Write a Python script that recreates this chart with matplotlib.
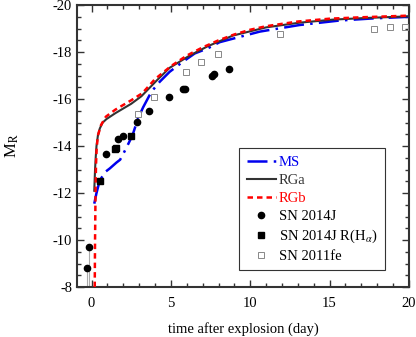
import matplotlib
matplotlib.use("Agg")
import matplotlib.pyplot as plt
from matplotlib.ticker import MultipleLocator

plt.rcParams['font.family'] = ['Liberation Serif', 'DejaVu Serif']
plt.rcParams['mathtext.fontset'] = 'stix'
plt.rcParams['axes.unicode_minus'] = False

# model light curves (days, R magnitude)
ms_t = [0.17, 0.31, 0.52, 0.9, 1.15, 1.57, 1.8, 2.16, 2.58, 2.93, 3.25, 3.77, 4.3,
        4.92, 5.76, 6.5, 7.33, 8.07, 10.6, 13.1, 15.6, 17.7, 20.0]
ms_m = [-11.55, -12.0, -12.55, -12.92, -13.05, -13.3, -13.42, -13.88, -14.46, -15.18,
        -15.65, -16.31, -16.74, -17.16, -17.59, -17.94, -18.16, -18.42, -18.87,
        -19.15, -19.34, -19.43, -19.5]

rga_t = [0.17, 0.22, 0.26, 0.31, 0.4, 0.52, 0.7, 0.94, 1.5, 2.5, 3.14, 4.09, 4.92,
         6.18, 7.33, 8.9, 11.0, 13.1, 15.2, 17.3, 20.0]
rga_m = [-12.1, -13.0, -13.5, -14.0, -14.45, -14.75, -15.0, -15.15, -15.4, -15.8,
         -16.12, -16.78, -17.33, -17.85, -18.25, -18.7, -19.05, -19.25, -19.38,
         -19.45, -19.52]

rgb_t = [0.2, 0.22, 0.25, 0.28, 0.32, 0.4, 0.6, 0.9, 1.5, 2.5, 3.2, 4.0, 5.0, 6.0,
         7.0, 8.0, 9.0, 10.0, 11.0, 12.0, 13.0, 15.0, 17.0, 20.0]
rgb_m = [-8.0, -10.0, -12.0, -13.2, -13.9, -14.45, -14.9, -15.25, -15.55, -15.95,
         -16.25, -16.85, -17.4, -17.85, -18.2, -18.5, -18.75, -18.95, -19.1, -19.2,
         -19.3, -19.42, -19.48, -19.55]

# observations
j14_t = [-0.31, -0.15, 0.88, 1.67, 1.95, 2.87, 3.65, 4.9, 5.74, 5.87, 7.57, 7.69, 8.64]
j14_m = [-8.8, -9.7, -13.68, -14.32, -14.41, -15.01, -15.49, -16.1, -16.44, -16.44,
         -16.98, -17.08, -17.29]

ha_t = [0.52, 1.5, 1.55, 2.49]
ha_m = [-12.53, -13.86, -13.92, -14.45]

fe_t = [2.93, 3.95, 5.93, 6.92, 7.94, 11.85, 17.8, 18.8, 19.75]
fe_m = [-15.36, -16.1, -17.15, -17.56, -17.91, -18.75, -18.99, -19.05, -19.05]

fig = plt.figure(figsize=(4.16, 3.37), dpi=100)
ax = fig.add_axes([0.185, 0.148, 0.798, 0.837])

# thin lines below the first two points
ax.vlines(j14_t[:2], -8, j14_m[:2], color='#aaaaaa', lw=0.8, zorder=1)

ax.plot(ms_t, ms_m, color='#0000ee', lw=1.8, dashes=[8, 2.5, 1, 2.5], label='MS', zorder=3)
ax.plot(rga_t, rga_m, color='#333333', lw=1.5, label='RGa', zorder=3)
ax.plot(rgb_t, rgb_m, color='#ff0000', lw=1.8, dashes=[2.2, 1.6], label='RGb', zorder=4)
ax.plot(j14_t, j14_m, 'o', color='black', ms=4.5, label='SN 2014J', zorder=5)
ax.plot(ha_t, ha_m, 's', color='black', ms=4.5, label=r'SN 2014J R(H$_{\alpha}$)', zorder=5)
ax.plot(fe_t, fe_m, 's', mfc='none', mec='#888888', mew=0.7, ms=4.5, label='SN 2011fe', zorder=5)

ax.set_xlim(-0.92, 20)
ax.set_ylim(-8, -20)
ax.xaxis.set_major_locator(MultipleLocator(5))
ax.xaxis.set_minor_locator(MultipleLocator(1))
ax.yaxis.set_major_locator(MultipleLocator(2))
ax.yaxis.set_minor_locator(MultipleLocator(0.5))
ax.tick_params(which='both', direction='in', top=True, right=True, width=1.0,
               labelsize=10.5, color='#333333')
ax.tick_params(which='major', length=5)
ax.tick_params(which='minor', length=3)
ax.tick_params(axis='x', which='major', pad=7)
for s in ax.spines.values():
    s.set_linewidth(1.5)
    s.set_color('#333333')

ax.set_xlabel('time after explosion (day)', fontsize=10.5, labelpad=9)
ax.set_ylabel(r'M$_\mathrm{R}$', fontsize=12)
ax.yaxis.set_label_coords(-0.17, 0.5)

leg = ax.legend(loc='lower right', bbox_to_anchor=(0.928, 0.06), fontsize=10.5,
                handlelength=2.0, handletextpad=0.2, fancybox=False, borderaxespad=0,
                edgecolor='#333333', framealpha=1, borderpad=0.5, labelspacing=0.33)
leg.get_frame().set_linewidth(0.8)
for txt, c in zip(leg.get_texts(), ['#0000ee', '#333333', '#ff0000']):
    txt.set_color(c)

fig.savefig('out.png', dpi=100)
